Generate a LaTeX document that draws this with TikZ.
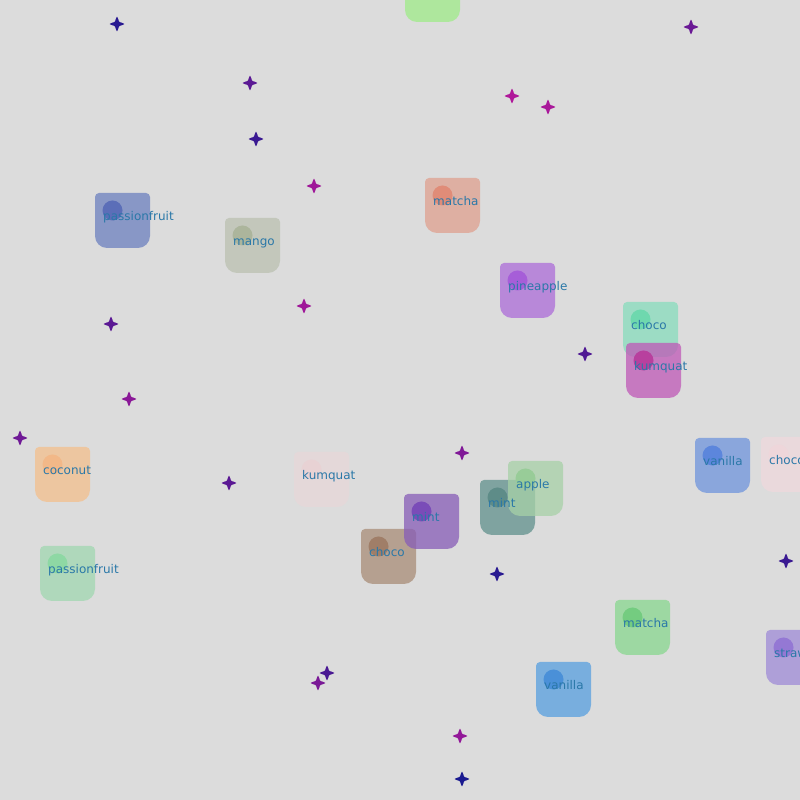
\documentclass[tikz,border=0pt]{standalone}
\usepackage{fontspec}
\newfontfamily\lblfont{DejaVu Sans}
\definecolor{bgc}{HTML}{DCDCDC}
\definecolor{txtc}{HTML}{2A78A8}
\definecolor{magS}{HTML}{B0189A}
\definecolor{navS}{HTML}{1A1A90}
\pgfdeclarelayer{front}
\pgfsetlayers{main,front}

% name, x, y (pixels from top left), box colour, dot colour, label
\newcommand{\flavor}[6]{%
  \definecolor{boxc}{HTML}{#4}\definecolor{dotc}{HTML}{#5}%
  \begin{scope}[shift={(#2,800-#3)}]
    \fill[boxc, fill opacity=0.75] (4,0) -- (51,0) arc[start angle=90,end angle=0,radius=4]
      -- (55,-43) arc[start angle=0,end angle=-90,radius=12]
      -- (12,-55) arc[start angle=270,end angle=180,radius=12]
      -- (0,-4) arc[start angle=180,end angle=90,radius=4] -- cycle;
    \fill[dotc] (17.5,-17.5) circle (10);
    \begin{pgfonlayer}{front}
      \node[lbl] (#1) at (8,-28) {#6};
    \end{pgfonlayer}
  \end{scope}}

% x, y, percent of magenta
\newcommand{\sparkle}[3]{%
  \fill[magS!#3!navS, shift={(#1,800-#2)}, rounded corners=0.8pt]
    (7.8,0) -- (3.4,1.8) -- (1.9,1.9) -- (1.8,3.4) -- (0,7.8) -- (-1.8,3.4) -- (-1.9,1.9) -- (-3.4,1.8)
    -- (-7.8,0) -- (-3.4,-1.8) -- (-1.9,-1.9) -- (-1.8,-3.4) -- (0,-7.8) -- (1.8,-3.4) -- (1.9,-1.9) -- (3.4,-1.8) -- cycle;}

\begin{document}
\begin{tikzpicture}[x=1pt,y=1pt,
  lbl/.style={anchor=base west,inner sep=0pt,text=txtc,font=\lblfont\fontsize{12}{14}\selectfont}]
% Background
\useasboundingbox (0,0) rectangle (800,800);
\fill[bgc] (0,0) rectangle (800,800);

% Sparkles
\sparkle{117}{24}{10}
\sparkle{691}{27}{53}
\sparkle{250}{83}{43}
\sparkle{512}{96}{100}
\sparkle{548}{107}{95}
\sparkle{256}{139}{21}
\sparkle{314}{186}{89}
\sparkle{304}{306}{89}
\sparkle{111}{324}{43}
\sparkle{585}{354}{36}
\sparkle{129}{399}{75}
\sparkle{20}{438}{57}
\sparkle{462}{453}{68}
\sparkle{229}{483}{43}
\sparkle{786}{561}{21}
\sparkle{497}{574}{10}
\sparkle{327}{673}{32}
\sparkle{318}{683}{64}
\sparkle{460}{736}{80}
\sparkle{462}{779}{0}

% Flavour cards
\definecolor{topc}{HTML}{9FEC89}
\fill[topc, fill opacity=0.75] (409,833) -- (456,833) arc[start angle=90,end angle=0,radius=4]
  -- (460,790) arc[start angle=0,end angle=-90,radius=12]
  -- (417,778) arc[start angle=270,end angle=180,radius=12] -- (405,829) -- cycle;
\flavor{passionfruitA}{95}{193}{6C81BF}{5B6EB8}{passionfruit}
\flavor{mango}{225}{218}{BBC1B0}{ACB59C}{mango}
\flavor{matchaA}{425}{178}{E0A08F}{E08C78}{matcha}
\flavor{pineapple}{500}{263}{AC6CD9}{A65ED8}{pineapple}
\flavor{chocoA}{623}{302}{87DCBC}{6ED8AE}{choco}
\flavor{kumquatA}{626}{343}{BF59B7}{B8409E}{kumquat}
\flavor{coconut}{35}{447}{F4BF8C}{F2B888}{coconut}
\flavor{kumquatB}{294}{452}{E7D7D9}{E8D2D4}{kumquat}
\flavor{vanillaA}{695}{438}{6F94DC}{5C86DC}{vanilla}
\flavor{chocoB}{761}{437}{EFD9DD}{EED6DA}{choco}
\flavor{mintA}{480}{480}{61918C}{5E8C88}{mint}
\flavor{apple}{508}{461}{A7D1A7}{98CC98}{apple}
\flavor{chocoC}{361}{529}{A98D77}{A07E68}{choco}
\flavor{mintB}{404}{494}{875CB7}{7A4CB8}{mint}
\flavor{passionfruitB}{40}{546}{A1D7B1}{8ED8A4}{passionfruit}
\flavor{matchaB}{615}{600}{88D78F}{74CC80}{matcha}
\flavor{vanillaB}{536}{662}{579FDF}{4A90D8}{vanilla}
\flavor{strawberry}{766}{630}{9F8BD7}{9478D4}{strawberry}
\end{tikzpicture}
\end{document}
